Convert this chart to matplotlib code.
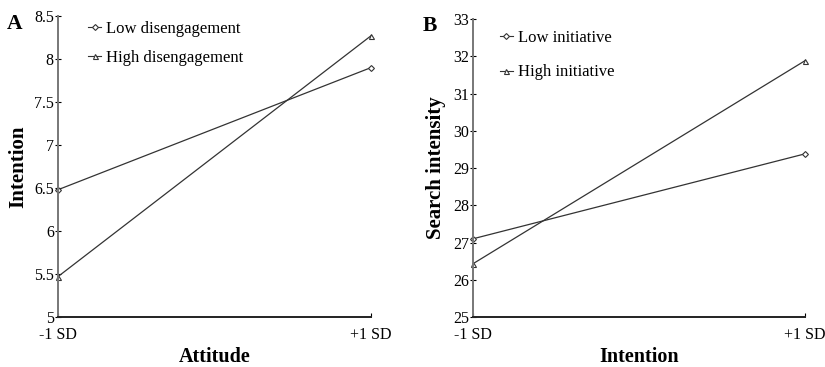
import matplotlib
matplotlib.use("Agg")
import matplotlib.pyplot as plt

plt.rcParams["font.family"] = ["Liberation Serif", "DejaVu Serif"]

x_labels = ["-1 SD", "+1 SD"]

# panel A: attitude x disengagement -> intention
a_low = [6.48, 7.90]
a_high = [5.47, 8.27]
a_yticks = [5, 5.5, 6, 6.5, 7, 7.5, 8, 8.5]

# panel B: intention x initiative -> search intensity
b_low = [27.1, 29.38]
b_high = [26.43, 31.88]
b_yticks = [25, 26, 27, 28, 29, 30, 31, 32, 33]

fig = plt.figure(figsize=(8.25, 3.67), dpi=100)
ax_a = fig.add_axes([0.0703, 0.1362, 0.3794, 0.8202])
ax_b = fig.add_axes([0.5733, 0.1362, 0.4024, 0.8120])


def style(ax, yticks, ylabel, xlabel, letter, letter_x, ypad, low, high, labels,
          legend_anchor, spacing):
    xs = [0, 1]
    ax.plot(xs, low, color="#333333", lw=0.9, marker="D", ms=3.0,
            mfc="white", mec="#333333", mew=0.8, label=labels[0], clip_on=False)
    ax.plot(xs, high, color="#333333", lw=0.9, marker="^", ms=3.6,
            mfc="white", mec="#333333", mew=0.8, label=labels[1], clip_on=False)
    ax.set_xlim(0, 1)
    ax.set_ylim(yticks[0], yticks[-1])
    ax.set_yticks(yticks)
    ax.set_yticklabels([f"{t:g}" for t in yticks])
    ax.set_xticks([0, 1])
    ax.set_xticklabels(x_labels)
    ax.tick_params(axis="y", direction="inout", length=4, width=0.8,
                   labelsize=11.5, pad=1)
    ax.tick_params(axis="x", direction="in", length=3, width=0.8,
                   labelsize=11.5, pad=7)
    for s in ("top", "right"):
        ax.spines[s].set_visible(False)
    ax.spines["left"].set_color("#777777")
    ax.spines["left"].set_linewidth(1.4)
    ax.spines["bottom"].set_color("#222222")
    ax.spines["bottom"].set_linewidth(1.4)
    ax.set_ylabel(ylabel, fontsize=15, fontweight="bold", labelpad=ypad)
    ax.set_xlabel(xlabel, fontsize=14.5, fontweight="bold", labelpad=3)
    ax.text(letter_x, 0.975, letter, transform=ax.transAxes, fontsize=15.5,
            fontweight="bold", va="center", ha="left")
    leg = ax.legend(loc="upper left", bbox_to_anchor=legend_anchor,
                    frameon=False, fontsize=12, handlelength=0.8,
                    handletextpad=0.3, labelspacing=spacing, borderaxespad=0)
    for line in leg.get_lines():
        line.set_linewidth(0.8)


style(ax_a, a_yticks, "Intention", "Attitude", "A", -0.165, 4, a_low, a_high,
      ["Low disengagement", "High disengagement"], (0.075, 1.005), 0.75)
style(ax_b, b_yticks, "Search intensity", "Intention", "B", -0.15, 5, b_low, b_high,
      ["Low initiative", "High initiative"], (0.06, 0.985), 1.1)

fig.savefig("out.png", dpi=100)
